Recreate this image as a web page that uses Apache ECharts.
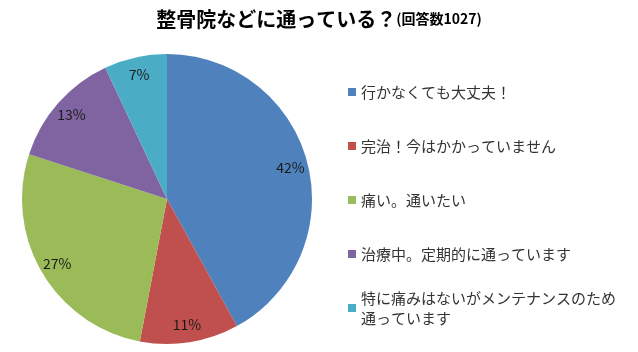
<!DOCTYPE html>
<html><head><meta charset="utf-8">
<script src="https://cdn.jsdelivr.net/npm/echarts@6/dist/echarts.min.js"></script>
<style>html,body{margin:0;padding:0;background:#fff}#c{width:638px;height:352px}</style>
</head><body><div id="c"></div>
<script>
const categories = ['行かなくても大丈夫！','完治！今はかかっていません','痛い。通いたい','治療中。定期的に通っています','特に痛みはないがメンテナンスのため\n通っています'];
const values = [42, 11, 27, 13, 7];
const colors = ['#4F81BD','#C0504D','#9BBB59','#8064A2','#4BACC6'];
const FONT = '"Noto Sans CJK JP", sans-serif';
const data = categories.map((n,i)=>({name:n, value:values[i], itemStyle:{color:colors[i]}}));
const chart = echarts.init(document.getElementById('c'));
chart.setOption({
  animation:false,
  title:{left:'center', top:4, text:'{a|整骨院などに通っている？}{b|(回答数1027)}',
    textStyle:{rich:{a:{fontSize:20,fontWeight:'bold',color:'#000',fontFamily:FONT},b:{fontSize:14,fontWeight:'bold',color:'#000',fontFamily:FONT}}}},
  legend:[{
    orient:'vertical', left:343, top:77, itemWidth:8, itemHeight:8, itemGap:34, icon:'rect',
    data:categories.slice(0,4),
    textStyle:{fontSize:15, lineHeight:20, color:'#333', fontFamily:FONT}
  },{
    orient:'vertical', left:343, top:273, itemWidth:8, itemHeight:8, icon:'rect',
    data:[{name:categories[4], textStyle:{padding:[20,0,0,0]}}],
    textStyle:{fontSize:15, lineHeight:20, color:'#333', fontFamily:FONT}
  }],
  series:[{
    type:'pie', center:[167,199], radius:[0,145], startAngle:90, clockwise:true,
    label:{show:false}, labelLine:{show:false}, data:data
  },{
    type:'pie', center:[167,199], radius:[104,145], startAngle:90, clockwise:true, silent:true,
    itemStyle:{color:'rgba(0,0,0,0)'},
    label:{show:true, position:'inside', formatter:'{c}%', fontSize:14, color:'#1a1a1a', fontFamily:FONT},
    labelLine:{show:false},
    data:categories.map((n,i)=>({name:n, value:values[i]}))
  }]
});
</script></body></html>
